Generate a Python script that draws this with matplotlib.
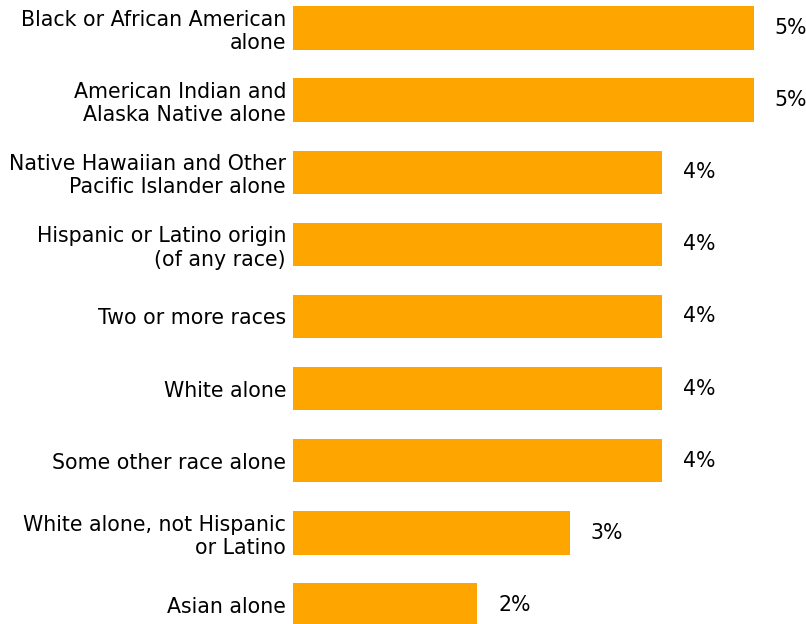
import matplotlib

matplotlib.use("Agg")
import matplotlib.pyplot as plt

categories = [
    "Black or African American\nalone",
    "American Indian and\nAlaska Native alone",
    "Native Hawaiian and Other\nPacific Islander alone",
    "Hispanic or Latino origin\n(of any race)",
    "Two or more races",
    "White alone",
    "Some other race alone",
    "White alone, not Hispanic\nor Latino",
    "Asian alone",
]
values = [5, 5, 4, 4, 4, 4, 4, 3, 2]
value_labels = ["5%", "5%", "4%", "4%", "4%", "4%", "4%", "3%", "2%"]

W, H = 806, 624
fig = plt.figure(figsize=(W / 100, H / 100), dpi=100)

# axes placed in pixels: x 0..5 spans 293..754, row spacing ~72 px
step = 72.1
top_px = 28 - 0.3 * step
bot_px = 605 + 0.3 * step
ax = fig.add_axes([293 / W, (H - bot_px) / H, (754 - 293) / W, (bot_px - top_px) / H])

ys = list(range(len(categories)))
ax.barh(ys, values, height=0.6, color="#FFA500")
ax.set_xlim(0, 5)
ax.set_ylim(len(categories) - 1 + 0.3, -0.3)

ax.set_yticks(ys)
ax.set_yticklabels(categories, fontsize=14.8)
ax.tick_params(axis="y", length=0, pad=5)
ax.set_xticks([])
for s in ax.spines.values():
    s.set_visible(False)

for y, v, lab in zip(ys, values, value_labels):
    ax.annotate(lab, (v, y), xytext=(15, 0), textcoords="offset points",
                va="center", ha="left", fontsize=14.8, annotation_clip=False)

fig.savefig("out.png", dpi=100)
